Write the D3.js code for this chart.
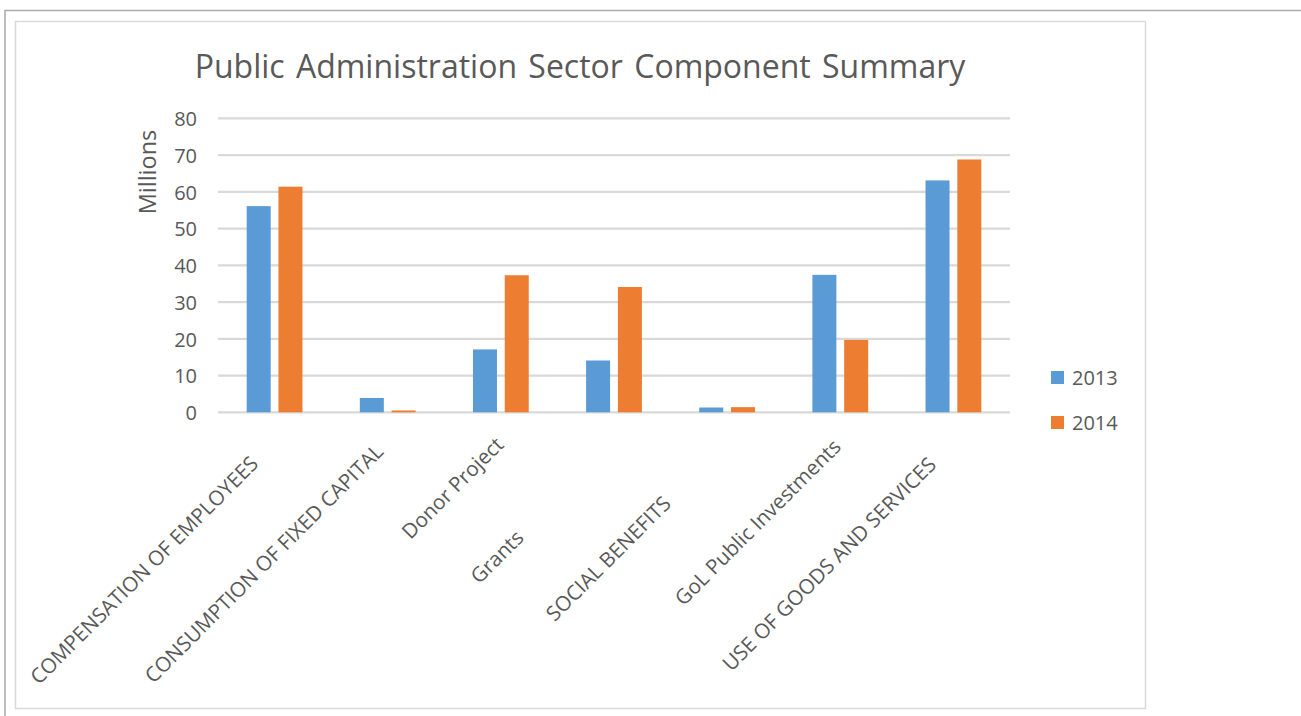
<!DOCTYPE html>
<html>
<head>
<meta charset="utf-8">
<script src="https://cdn.jsdelivr.net/npm/d3@7"></script>
<style>
  html, body { margin: 0; padding: 0; background: #ffffff; }
  svg { display: block; font-family: "Open Sans", "Noto Sans", sans-serif; }
</style>
</head>
<body>
<svg id="chart" width="1301" height="716"></svg>
<script>
// Sector components and yearly amounts (millions)
const categories = [
  "COMPENSATION OF EMPLOYEES",
  "CONSUMPTION OF FIXED CAPITAL",
  "Donor Project",
  "Grants",
  "SOCIAL BENEFITS",
  "GoL Public Investments",
  "USE OF GOODS AND SERVICES"
];
const seriesNames = ["2013", "2014"];
const values2013 = [56.1, 3.9, 17.1, 14.1, 1.3, 37.4, 63.1];
const values2014 = [61.4, 0.5, 37.3, 34.1, 1.4, 19.7, 68.8];
const yTicks = [0, 10, 20, 30, 40, 50, 60, 70, 80];
const titleText = "Public Administration Sector Component Summary";
const yAxisTitle = "Millions";

const colors = { "2013": "#5B9BD5", "2014": "#ED7D31" };
const textColor = "#595959";
const fontStack = '"Open Sans", "Noto Sans", sans-serif';

const svg = d3.select("#chart");

// page frame and chart area border
svg.append("path")
  .attr("d", "M5,716 V10.5 H1301")
  .attr("fill", "none").attr("stroke", "#ababab").attr("stroke-width", 1.5);
svg.append("rect")
  .attr("x", 15.5).attr("y", 21.5).attr("width", 1130).attr("height", 687)
  .attr("fill", "#ffffff").attr("stroke", "#d9d9d9").attr("stroke-width", 1.5);

// plot area
const plot = { left: 218, right: 1010, top: 118.3, bottom: 412.3 };

const y = d3.scaleLinear().domain([0, 80]).range([plot.bottom, plot.top]);
const x0 = d3.scaleBand().domain(categories).range([plot.left, plot.right]).padding(0);
const groupWidth = 55.8;
const x1 = d3.scaleBand().domain(seriesNames).range([0, groupWidth]).paddingInner(0.245).paddingOuter(0);

// gridlines
svg.append("g").selectAll("line").data(yTicks).join("line")
  .attr("x1", plot.left).attr("x2", plot.right)
  .attr("y1", d => y(d)).attr("y2", d => y(d))
  .attr("stroke", "#d9d9d9").attr("stroke-width", 2.2);

// y axis tick labels
const yAxis = d3.axisLeft(y).tickValues(yTicks).tickSize(0).tickPadding(0);
const gy = svg.append("g").attr("transform", `translate(${plot.left - 21},0)`).call(yAxis)
  .attr("font-family", fontStack).attr("font-size", null);
gy.select(".domain").remove();
gy.selectAll("text")
  .attr("fill", textColor)
  .style("font-family", fontStack)
  .style("font-size", "20px")
  .attr("dy", "0.36em");

// bars
const rows = categories.map((c, i) => ({ cat: c, vals: [
  { key: "2013", v: values2013[i] },
  { key: "2014", v: values2014[i] }
]}));
const groupOffset = (x0.bandwidth() - groupWidth) / 2;
svg.append("g").selectAll("g").data(rows).join("g")
  .attr("transform", d => `translate(${x0(d.cat) + groupOffset},0)`)
  .selectAll("rect").data(d => d.vals).join("rect")
  .attr("x", d => x1(d.key))
  .attr("width", x1.bandwidth())
  .attr("y", d => y(d.v))
  .attr("height", d => y(0) - y(d.v))
  .attr("fill", d => colors[d.key]);

// category labels, rotated -45deg and slid along their diagonal
const labelShift = [-15, -3, 4, -89, -55, 2, -16];
svg.append("g").selectAll("text").data(categories).join("text")
  .attr("transform", (d, i) => {
    const cx = x0(d) + x0.bandwidth() / 2 + labelShift[i];
    const cy = 450 - labelShift[i];
    return `translate(${cx},${cy}) rotate(-45)`;
  })
  .attr("text-anchor", "end")
  .attr("fill", textColor)
  .style("font-size", "20.6px")
  .text(d => d);

// y axis title
svg.append("text")
  .attr("transform", "translate(156,172) rotate(-90)")
  .attr("text-anchor", "middle")
  .attr("fill", textColor)
  .style("font-size", "23.5px")
  .text(yAxisTitle);

// chart title
svg.append("text")
  .attr("x", 580).attr("y", 78)
  .attr("text-anchor", "middle")
  .attr("fill", textColor)
  .style("font-size", "32px")
  .style("word-spacing", "3px")
  .text(titleText);

// legend
const legend = svg.append("g").selectAll("g").data(seriesNames).join("g")
  .attr("transform", (d, i) => `translate(1051,${371 + i * 45})`);
legend.append("rect").attr("width", 13).attr("height", 13).attr("fill", d => colors[d]);
legend.append("text")
  .attr("x", 21).attr("y", 14)
  .attr("fill", textColor)
  .style("font-size", "20px")
  .text(d => d);
</script>
</body>
</html>
